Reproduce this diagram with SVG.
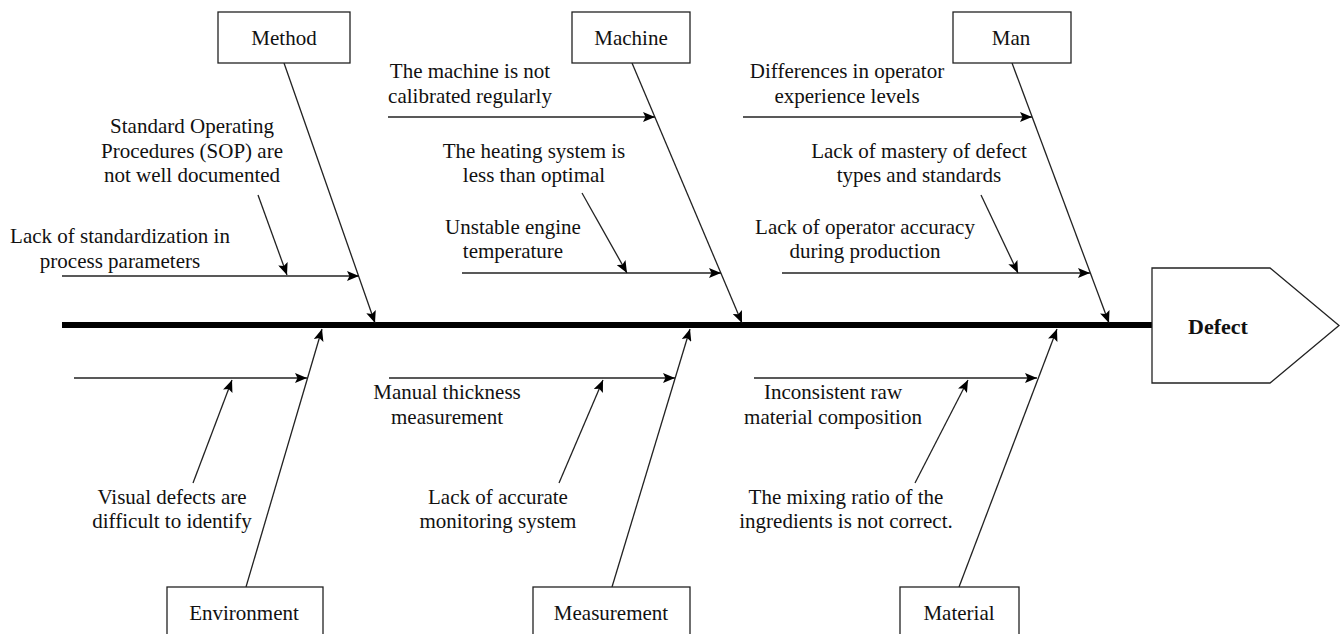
<svg xmlns="http://www.w3.org/2000/svg" width="1341" height="634" viewBox="0 0 1341 634">
<style>
text{font-family:"Liberation Serif","Times New Roman",serif;font-size:21px;fill:#111;text-anchor:middle}
.box{fill:#fff;stroke:#222;stroke-width:1.3}
.ln{stroke:#222;stroke-width:1.3;fill:none;marker-end:url(#ah)}
.bold{font-weight:bold;font-size:22px}
</style>
<defs>
<marker id="ah" markerUnits="userSpaceOnUse" markerWidth="12" markerHeight="10" refX="12" refY="5" orient="auto">
<path d="M0,0 L12,5 L0,10 L2.5,5 z" fill="#000"/>
</marker>
</defs>
<rect width="1341" height="634" fill="#fff"/>
<g id="connectors">
<line x1="62" y1="325" x2="1152" y2="325" stroke="#000" stroke-width="6"/>
<line class="ln" x1="284" y1="63" x2="375" y2="323"/>
<line class="ln" x1="62" y1="276" x2="359" y2="276"/>
<line class="ln" x1="258" y1="195" x2="287" y2="275"/>
<line class="ln" x1="632" y1="63" x2="742" y2="323"/>
<line class="ln" x1="388" y1="117" x2="655" y2="117"/>
<line class="ln" x1="462" y1="273" x2="721" y2="273"/>
<line class="ln" x1="582" y1="193" x2="627" y2="273"/>
<line class="ln" x1="1012" y1="63" x2="1109" y2="323"/>
<line class="ln" x1="743" y1="117" x2="1032" y2="117"/>
<line class="ln" x1="782" y1="273" x2="1090" y2="273"/>
<line class="ln" x1="981" y1="195" x2="1018" y2="273"/>
<line class="ln" x1="246" y1="587" x2="322" y2="329"/>
<line class="ln" x1="74" y1="378" x2="307" y2="378"/>
<line class="ln" x1="193" y1="483" x2="232" y2="380"/>
<line class="ln" x1="612" y1="587" x2="690" y2="329"/>
<line class="ln" x1="389" y1="378" x2="675" y2="378"/>
<line class="ln" x1="559" y1="483" x2="603" y2="380"/>
<line class="ln" x1="959" y1="587" x2="1057" y2="329"/>
<line class="ln" x1="754" y1="378" x2="1037" y2="378"/>
<line class="ln" x1="915" y1="483" x2="968" y2="380"/>
</g>
<g id="defect">
<polygon class="box" points="1152,268 1270,268 1339,325.5 1270,383 1152,383"/>
<text class="bold" x="1218" y="334">Defect</text>
</g>
<g id="method">
<rect class="box" x="218" y="12" width="132" height="51"/>
<text x="284" y="45">Method</text>
<text x="192" y="133">Standard Operating</text>
<text x="192" y="158">Procedures (SOP) are</text>
<text x="192" y="182">not well documented</text>
<text x="120" y="243">Lack of standardization in</text>
<text x="120" y="268">process parameters</text>
</g>
<g id="machine">
<rect class="box" x="572" y="12" width="118" height="51"/>
<text x="631" y="45">Machine</text>
<text x="470" y="78">The machine is not</text>
<text x="470" y="103">calibrated regularly</text>
<text x="534" y="158">The heating system is</text>
<text x="534" y="182">less than optimal</text>
<text x="513" y="234">Unstable engine</text>
<text x="513" y="258">temperature</text>
</g>
<g id="man">
<rect class="box" x="953" y="12" width="118" height="51"/>
<text x="1011" y="45">Man</text>
<text x="847" y="78">Differences in operator</text>
<text x="847" y="103">experience levels</text>
<text x="919" y="158">Lack of mastery of defect</text>
<text x="919" y="182">types and standards</text>
<text x="865" y="234">Lack of operator accuracy</text>
<text x="865" y="258">during production</text>
</g>
<g id="environment">
<rect class="box" x="167" y="587" width="156" height="60"/>
<text x="244" y="620">Environment</text>
<text x="172" y="504">Visual defects are</text>
<text x="172" y="528">difficult to identify</text>
</g>
<g id="measurement">
<rect class="box" x="533" y="587" width="157" height="60"/>
<text x="611" y="620">Measurement</text>
<text x="447" y="399">Manual thickness</text>
<text x="447" y="424">measurement</text>
<text x="498" y="504">Lack of accurate</text>
<text x="498" y="528">monitoring system</text>
</g>
<g id="material">
<rect class="box" x="900" y="587" width="119" height="60"/>
<text x="959" y="620">Material</text>
<text x="833" y="399">Inconsistent raw</text>
<text x="833" y="424">material composition</text>
<text x="846" y="504">The mixing ratio of the</text>
<text x="846" y="528">ingredients is not correct.</text>
</g>
</svg>
